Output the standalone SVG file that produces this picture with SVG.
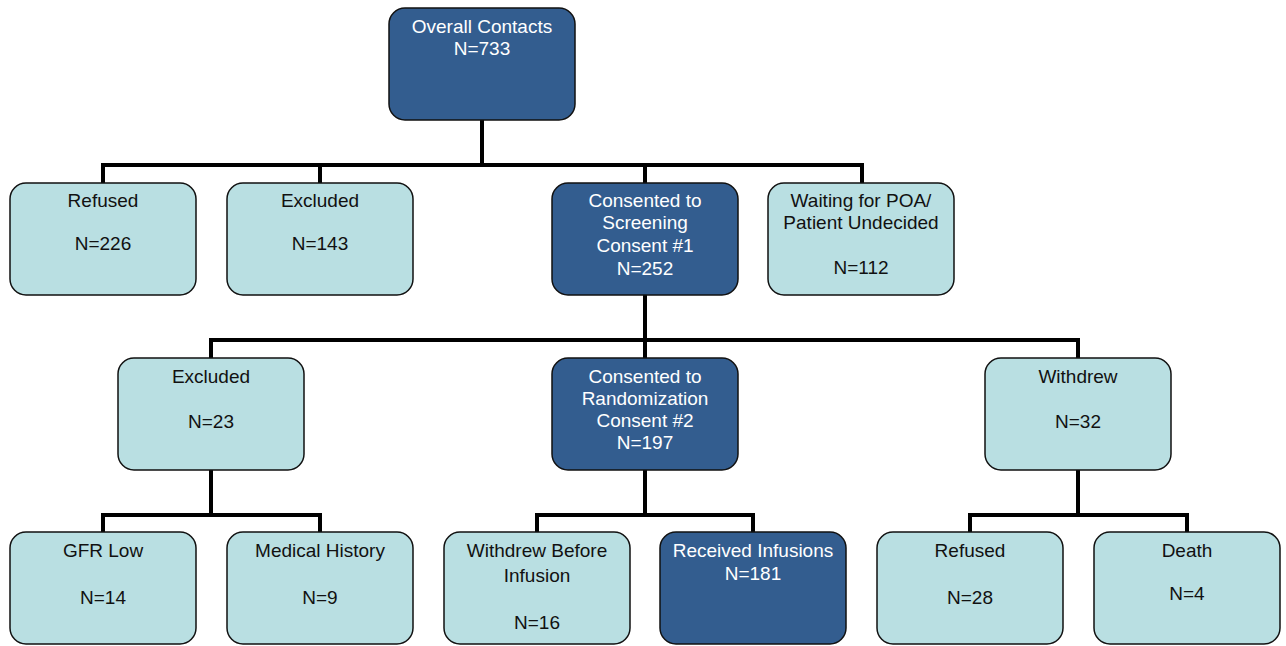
<svg xmlns="http://www.w3.org/2000/svg" width="1286" height="646" viewBox="0 0 1286 646">
<style>
.d{fill:#335d8f;stroke:#111;stroke-width:1.5}
.l{fill:#b9dfe2;stroke:#111;stroke-width:1.5}
text{font-family:"Liberation Sans",Arial,sans-serif;font-size:19px;text-anchor:middle}
.dt{fill:#fff}
.lt{fill:#111}
#connectors path{fill:none;stroke:#000;stroke-width:4}
</style>
<rect width="1286" height="646" fill="#fff"/>
<g id="connectors">
<path d="M482 120V165M103 165H862M103 163V183M320 163V183M645 163V183M862 163V183"/>
<path d="M645 295V340M211 340H1078M211 338V358M645 338V358M1078 338V358"/>
<path d="M211 470V515M103 515H320M103 513V532M320 513V532"/>
<path d="M645 470V515M537 515H753M537 513V532M753 513V532"/>
<path d="M1078 470V515M970 515H1187M970 513V532M1187 513V532"/>
</g>
<g id="n-overall"><rect class="d" x="389" y="8" width="186" height="112" rx="16"/><text class="dt" x="482" y="33">Overall Contacts</text><text class="dt" x="482" y="55">N=733</text></g>
<g id="n-refused1"><rect class="l" x="10" y="183" width="186" height="112" rx="16"/><text class="lt" x="103" y="207">Refused</text><text class="lt" x="103" y="250">N=226</text></g>
<g id="n-excluded1"><rect class="l" x="227" y="183" width="186" height="112" rx="16"/><text class="lt" x="320" y="207">Excluded</text><text class="lt" x="320" y="250">N=143</text></g>
<g id="n-screening"><rect class="d" x="552" y="183" width="186" height="112" rx="16"/><text class="dt" x="645" y="207">Consented to</text><text class="dt" x="645" y="229">Screening</text><text class="dt" x="645" y="252">Consent #1</text><text class="dt" x="645" y="275">N=252</text></g>
<g id="n-waiting"><rect class="l" x="768" y="183" width="186" height="112" rx="16"/><text class="lt" x="861" y="207">Waiting for POA/</text><text class="lt" x="861" y="229">Patient Undecided</text><text class="lt" x="861" y="274">N=112</text></g>
<g id="n-excluded2"><rect class="l" x="118" y="358" width="186" height="112" rx="16"/><text class="lt" x="211" y="383">Excluded</text><text class="lt" x="211" y="428">N=23</text></g>
<g id="n-randomization"><rect class="d" x="552" y="358" width="186" height="112" rx="16"/><text class="dt" x="645" y="383">Consented to</text><text class="dt" x="645" y="405">Randomization</text><text class="dt" x="645" y="427">Consent #2</text><text class="dt" x="645" y="449">N=197</text></g>
<g id="n-withdrew"><rect class="l" x="985" y="358" width="186" height="112" rx="16"/><text class="lt" x="1078" y="383">Withdrew</text><text class="lt" x="1078" y="428">N=32</text></g>
<g id="n-gfr"><rect class="l" x="10" y="532" width="186" height="112" rx="16"/><text class="lt" x="103" y="557">GFR Low</text><text class="lt" x="103" y="604">N=14</text></g>
<g id="n-medical"><rect class="l" x="227" y="532" width="186" height="112" rx="16"/><text class="lt" x="320" y="557">Medical History</text><text class="lt" x="320" y="604">N=9</text></g>
<g id="n-withdrewbefore"><rect class="l" x="444" y="532" width="186" height="112" rx="16"/><text class="lt" x="537" y="557">Withdrew Before</text><text class="lt" x="537" y="582">Infusion</text><text class="lt" x="537" y="629">N=16</text></g>
<g id="n-received"><rect class="d" x="660" y="532" width="186" height="112" rx="16"/><text class="dt" x="753" y="557">Received Infusions</text><text class="dt" x="753" y="580">N=181</text></g>
<g id="n-refused2"><rect class="l" x="877" y="532" width="186" height="112" rx="16"/><text class="lt" x="970" y="557">Refused</text><text class="lt" x="970" y="604">N=28</text></g>
<g id="n-death"><rect class="l" x="1094" y="532" width="186" height="112" rx="16"/><text class="lt" x="1187" y="557">Death</text><text class="lt" x="1187" y="600">N=4</text></g>
</svg>
